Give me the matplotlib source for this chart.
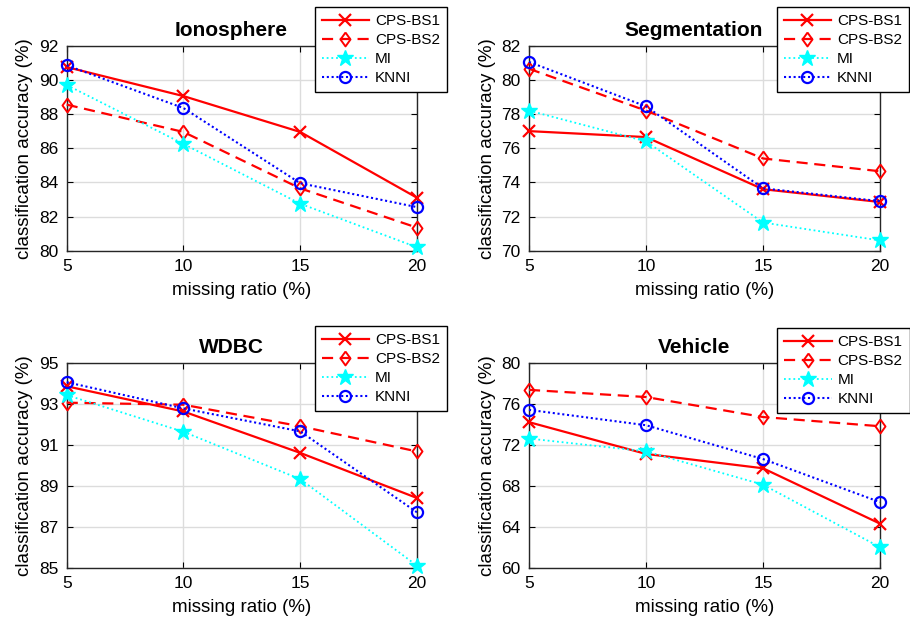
import matplotlib
matplotlib.use("Agg")
import matplotlib.pyplot as plt

plt.rcParams['font.family'] = ['Liberation Sans', 'DejaVu Sans']

x_ratio = [5, 10, 15, 20]
methods = ['CPS-BS1', 'CPS-BS2', 'MI', 'KNNI']

titles = ['Ionosphere', 'Segmentation', 'WDBC', 'Vehicle']

iono_bs1 = [90.75, 89.05, 86.95, 83.1]
iono_bs2 = [88.55, 86.95, 83.65, 81.35]
iono_mi = [89.7, 86.25, 82.75, 80.2]
iono_knni = [90.85, 88.35, 83.95, 82.55]

seg_bs1 = [77.0, 76.65, 73.6, 72.85]
seg_bs2 = [80.65, 78.2, 75.4, 74.65]
seg_mi = [78.2, 76.4, 71.65, 70.6]
seg_knni = [81.05, 78.45, 73.65, 72.9]

wdbc_bs1 = [93.85, 92.62, 90.6, 88.4]
wdbc_bs2 = [93.05, 92.95, 91.9, 90.67]
wdbc_mi = [93.42, 91.63, 89.32, 85.1]
wdbc_knni = [94.05, 92.77, 91.65, 87.7]

veh_bs1 = [74.2, 71.1, 69.7, 64.3]
veh_bs2 = [77.35, 76.65, 74.7, 73.8]
veh_mi = [72.6, 71.35, 68.1, 62.0]
veh_knni = [75.4, 73.9, 70.6, 66.4]

data = [
    [iono_bs1, iono_bs2, iono_mi, iono_knni],
    [seg_bs1, seg_bs2, seg_mi, seg_knni],
    [wdbc_bs1, wdbc_bs2, wdbc_mi, wdbc_knni],
    [veh_bs1, veh_bs2, veh_mi, veh_knni],
]

ylims = [(80, 92), (70, 82), (85, 95), (60, 80)]
yticks = [list(range(80, 93, 2)), list(range(70, 83, 2)),
          list(range(85, 96, 2)), list(range(60, 81, 4))]

diamond = [(0, 1), (0.72, 0), (0, -1), (-0.72, 0), (0, 1)]

styles = [
    dict(color='red', linestyle='-', marker='x', markersize=9, markeredgewidth=1.6, linewidth=1.6),
    dict(color='red', linestyle=(0, (5, 3)), marker=diamond, markersize=10, markerfacecolor='none',
         markeredgewidth=1.4, linewidth=1.6),
    dict(color='cyan', linestyle=(0, (1, 1.6)), marker='*', markersize=12, markeredgewidth=1.0, linewidth=1.3),
    dict(color='blue', linestyle=(0, (1, 1.3)), marker='o', markersize=8, markerfacecolor='none',
         markeredgewidth=1.6, linewidth=1.5),
]

W, H = 910, 624
fig = plt.figure(figsize=(W / 100, H / 100), dpi=100)

axes_px = [
    (66.7, 45.7, 417, 250.7),
    (529, 45.7, 880, 250.7),
    (66.7, 362.7, 417, 567.7),
    (529, 362.7, 880, 567.7),
]
legend_anchor_px = [(447, 7), (909, 7), (447, 326), (909.5, 328)]

for i in range(4):
    l, t, r, b = axes_px[i]
    ax = fig.add_axes([l / W, 1 - b / H, (r - l) / W, (b - t) / H])
    lines = []
    for j, m in enumerate(methods):
        ln, = ax.plot(x_ratio, data[i][j], label=m, **styles[j], zorder=3, clip_on=False)
        lines.append(ln)
    ax.set_xlim(5, 20)
    ax.set_ylim(*ylims[i])
    ax.set_xticks(x_ratio)
    ax.set_yticks(yticks[i])
    ax.grid(True, color='#dcdcdc', linewidth=1.0)
    ax.set_axisbelow(True)
    ax.tick_params(direction='in', top=True, right=True, labelsize=12.5, length=4, pad=6, width=0.8)
    for s in ax.spines.values():
        s.set_linewidth(1.0)
        s.set_color('#262626')
    ax.set_xlabel('missing ratio (%)', fontsize=13.5, labelpad=6)
    ax.set_ylabel('classification accuracy (%)', fontsize=13.5, labelpad=4)
    ax.set_title(titles[i], fontsize=15, fontweight='bold', pad=7, x=0.47)
    lx, ly = legend_anchor_px[i]
    leg = ax.legend(handles=lines, loc='upper right', bbox_to_anchor=(lx / W, 1 - ly / H),
                    bbox_transform=fig.transFigure, fontsize=11, frameon=True, fancybox=False,
                    edgecolor='black', framealpha=1, handlelength=3.1, borderaxespad=0,
                    labelspacing=0.33, borderpad=0.45, handletextpad=0.4)
    leg.get_frame().set_linewidth(1.0)
    leg.set_zorder(10)

fig.savefig('out.png', dpi=100, facecolor='white')
